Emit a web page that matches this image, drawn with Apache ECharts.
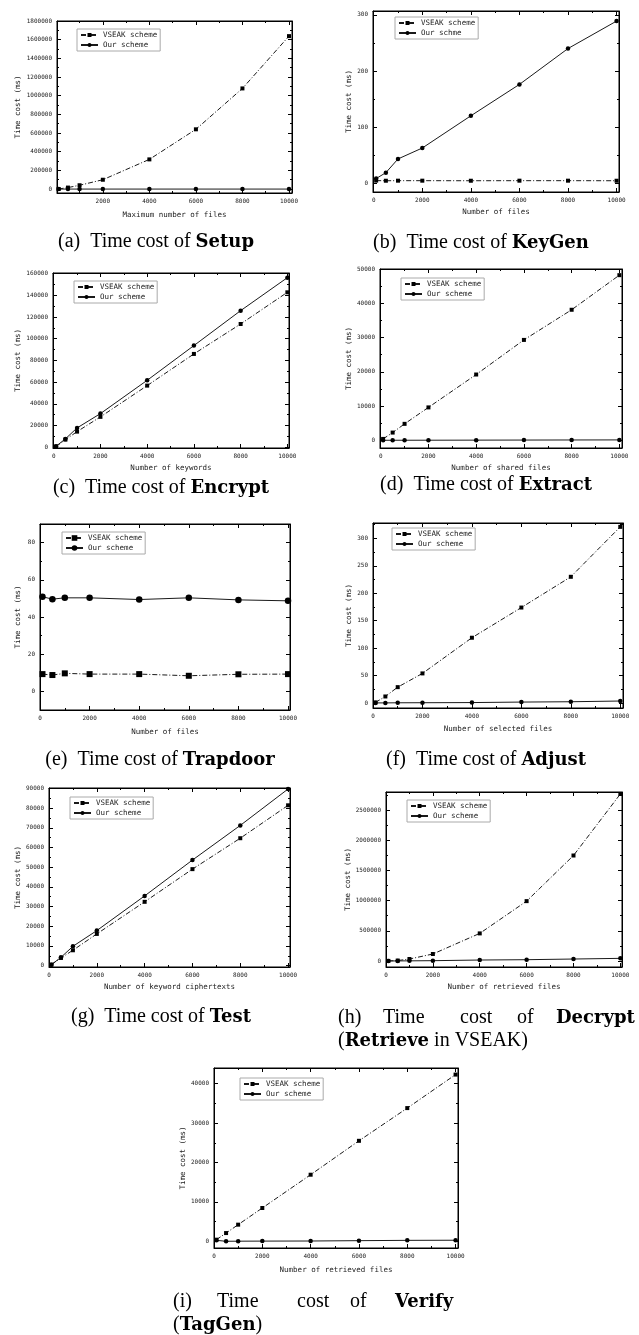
<!DOCTYPE html>
<html>
<head>
<meta charset="utf-8">
<script src="https://cdn.jsdelivr.net/npm/echarts@6/dist/echarts.min.js"></script>
<style>
html, body { margin: 0; padding: 0; background: #fff; }
#main { width: 639px; height: 1335px; }
</style>
</head>
<body>
<div id="main"></div>
<script>
// x values shared by every panel
var fileCounts = [100, 500, 1000, 2000, 4000, 6000, 8000, 10000];

// (a) Setup
var setupVseak = [1000, 16000, 41000, 100000, 318000, 640000, 1078000, 1638000];
var setupOur = [3, 5, 7, 12, 22, 31, 43, 52];
// (b) KeyGen
var keygenVseak = [4.3, 4.1, 4.2, 4.2, 4.1, 4.2, 4.2, 4.1];
var keygenOur = [8, 18.5, 43, 62.5, 120, 176, 240, 289];
// (c) Encrypt
var encryptVseak = [600, 7000, 14400, 28000, 56800, 86000, 113600, 142800];
var encryptOur = [900, 7700, 17800, 31000, 61700, 93700, 125900, 156300];
// (d) Extract
var extractVseak = [400, 2250, 4800, 9600, 19200, 29300, 38100, 48200];
var extractOur = [5, 10, 15, 25, 45, 70, 90, 110];
// (e) Trapdoor
var trapdoorVseak = [9.3, 8.8, 9.7, 9.3, 9.3, 8.4, 9.2, 9.3];
var trapdoorOur = [50.9, 49.6, 50.3, 50.3, 49.4, 50.3, 49.2, 48.7];
// (f) Adjust
var adjustVseak = [1.2, 12, 29, 54, 119, 174, 230, 321];
var adjustOur = [0.3, 0.3, 0.5, 0.6, 0.9, 1.8, 2.4, 3.7];
// (g) Test
var testVseak = [500, 3900, 7800, 16100, 32400, 49000, 64700, 81400];
var testOur = [500, 4200, 9800, 17800, 35400, 53600, 71200, 89700];
// (h) Decrypt
var decryptVseak = [2000, 8000, 33000, 116000, 457000, 991000, 1746000, 2764000];
var decryptOur = [300, 1500, 2700, 5500, 16500, 22000, 33000, 44000];
// (i) Verify
var verifyVseak = [420, 2100, 4230, 8460, 16900, 25500, 33800, 42300];
var verifyOur = [250, 20, 40, 60, 85, 170, 250, 280];

var vseakName = 'VSEAK scheme';
var ourName = 'Our scheme';
var yTitle = 'Time cost (ms)';

// panel layout: grid [left, top, width, height], axis ranges, legend position
var panels = [
  { k: 'a', v: setupVseak, o: setupOur, on: ourName, xt: 'Maximum number of files',
    g: [57, 21, 235, 172], x: [30, 10130], y: [-42000, 1800000], ys: 200000, yg: 35, xg: 18, lg: [77, 29] },
  { k: 'b', v: keygenVseak, o: keygenOur, on: 'Our schme', xt: 'Number of files',
    g: [373, 11, 246, 181], x: [-30, 10100], y: [-16, 307], ys: 100, yg: 20, xg: 16, lg: [395, 17] },
  { k: 'c', v: encryptVseak, o: encryptOur, on: ourName, xt: 'Number of keywords',
    g: [53, 273, 236, 175], x: [-30, 10070], y: [-700, 160600], ys: 20000, yg: 31, xg: 16, lg: [74, 281] },
  { k: 'd', v: extractVseak, o: extractOur, on: ourName, xt: 'Number of shared files',
    g: [380, 269, 242, 179], x: [-30, 10110], y: [-2250, 50000], ys: 10000, yg: 27, xg: 16, lg: [401, 278] },
  { k: 'e', v: trapdoorVseak, o: trapdoorOur, on: ourName, xt: 'Number of files',
    g: [40, 524, 250, 186], x: [0, 10080], y: [-10, 90], ys: 20, yg: 18, xg: 18, lg: [62, 532], big: true },
  { k: 'f', v: adjustVseak, o: adjustOur, on: ourName, xt: 'Number of selected files',
    g: [373, 523, 250, 185], x: [0, 10110], y: [-9, 328], ys: 50, yg: 20, xg: 17, lg: [392, 528] },
  { k: 'g', v: testVseak, o: testOur, on: ourName, xt: 'Number of keyword ciphertexts',
    g: [49, 788, 241, 179], x: [0, 10080], y: [-700, 90200], ys: 10000, yg: 27, xg: 16, lg: [70, 797] },
  { k: 'h', v: decryptVseak, o: decryptOur, on: ourName, xt: 'Number of retrieved files',
    g: [386, 792, 236, 175], x: [0, 10070], y: [-99000, 2797000], ys: 500000, yg: 33, xg: 16, lg: [407, 800] },
  { k: 'i', v: verifyVseak, o: verifyOur, on: ourName, xt: 'Number of retrieved files',
    g: [214, 1068, 244, 180], x: [0, 10100], y: [-1690, 43970], ys: 10000, yg: 27, xg: 18, lg: [240, 1078] }
];

var mono = 'DejaVu Sans Mono';
var ink = '#1a1a1a';

function pairs(xs, ys) {
  var out = [];
  for (var i = 0; i < xs.length; i++) out.push([xs[i], ys[i]]);
  return out;
}

function makeAxis(p, gi, isX, pos, main) {
  var step = isX ? 2000 : p.ys;
  var r = isX ? p.x : p.y;
  var ax = {
    type: 'value', gridIndex: gi, position: pos,
    min: r[0], max: r[1], minInterval: step, maxInterval: step, splitNumber: 5,
    axisLine: { show: true, onZero: false, lineStyle: { color: '#000', width: 1 } },
    axisTick: { show: true, inside: true, length: 4, lineStyle: { color: '#000', width: 1 } },
    minorTick: { show: true, splitNumber: 2, length: 2, lineStyle: { color: '#000', width: 1 } },
    splitLine: { show: false },
    axisLabel: {
      show: main, margin: 5, fontSize: 6, fontFamily: mono, color: ink,
      formatter: function (val) { return Math.abs(val % step) < 1e-6 ? String(val) : ''; }
    }
  };
  if (main) {
    ax.name = isX ? p.xt : yTitle;
    ax.nameLocation = 'middle';
    ax.nameGap = isX ? p.xg : p.yg;
    ax.nameTextStyle = { fontSize: 7.5, fontFamily: mono, color: ink };
  }
  return ax;
}

var grids = [], xAxes = [], yAxes = [], series = [], legends = [];

panels.forEach(function (p, i) {
  grids.push({ left: p.g[0], top: p.g[1], width: p.g[2], height: p.g[3],
    show: true, borderColor: '#000', borderWidth: 1, containLabel: false });
  xAxes.push(makeAxis(p, i, true, 'bottom', true));
  xAxes.push(makeAxis(p, i, true, 'top', false));
  yAxes.push(makeAxis(p, i, false, 'left', true));
  yAxes.push(makeAxis(p, i, false, 'right', false));

  var sz = p.big ? 6 : 4;
  var ourKey = ourName + '#' + p.k + (p.on !== ourName ? '!' : '');
  series.push({
    type: 'line', name: vseakName + '#' + p.k,
    xAxisIndex: 2 * i, yAxisIndex: 2 * i,
    data: pairs(fileCounts, p.v),
    symbol: 'rect', symbolSize: sz,
    lineStyle: { color: ink, width: 1, type: [5, 2, 1, 2] },
    itemStyle: { color: '#000' }
  });
  series.push({
    type: 'line', name: ourKey,
    xAxisIndex: 2 * i, yAxisIndex: 2 * i,
    data: pairs(fileCounts, p.o),
    symbol: 'circle', symbolSize: sz + 0.5,
    lineStyle: { color: ink, width: 1 },
    itemStyle: { color: '#000' }
  });

  legends.push({
    left: p.lg[0], top: p.lg[1], orient: 'vertical',
    data: [vseakName + '#' + p.k, ourKey],
    formatter: function (n) { return n.indexOf('!') >= 0 ? p.on : n.split('#')[0]; },
    itemWidth: 17, itemHeight: p.big ? 7 : 5, itemGap: 2,
    padding: [2, 3, 2, 3], borderColor: '#aaa', borderWidth: 1,
    selectedMode: false,
    textStyle: { fontSize: 7.5, lineHeight: 8, fontFamily: mono, color: ink }
  });
});

// captions
var capRich = {
  r: { fontFamily: 'Liberation Serif', fontSize: 20, color: '#000' },
  b: { fontFamily: 'DejaVu Serif', fontSize: 18, fontWeight: 'bold', color: '#000' }
};
function cap(x, y, txt, align) {
  return { type: 'text', x: x, y: y, silent: true,
    style: { text: txt, rich: capRich, align: align || 'center', verticalAlign: 'middle' } };
}
var captions = [
  cap(156, 242, '{r|(a)  Time cost of }{b|Setup}'),
  cap(481, 243, '{r|(b)  Time cost of }{b|KeyGen}'),
  cap(161, 488, '{r|(c)  Time cost of }{b|Encrypt}'),
  cap(486, 485, '{r|(d)  Time cost of }{b|Extract}'),
  cap(160, 760, '{r|(e)  Time cost of }{b|Trapdoor}'),
  cap(486, 760, '{r|(f)  Time cost of }{b|Adjust}'),
  cap(161, 1017, '{r|(g)  Time cost of }{b|Test}'),
  // (h) justified line
  cap(338, 1018, '{r|(h)}', 'left'),
  cap(383, 1018, '{r|Time}', 'left'),
  cap(460, 1018, '{r|cost}', 'left'),
  cap(517, 1018, '{r|of}', 'left'),
  cap(556, 1018, '{b|Decrypt}', 'left'),
  cap(338, 1041, '{r|(}{b|Retrieve}{r| in VSEAK)}', 'left'),
  // (i) justified line
  cap(173, 1302, '{r|(i)}', 'left'),
  cap(217, 1302, '{r|Time}', 'left'),
  cap(297, 1302, '{r|cost}', 'left'),
  cap(350, 1302, '{r|of}', 'left'),
  cap(395, 1302, '{b|Verify}', 'left'),
  cap(173, 1325, '{r|(}{b|TagGen}{r|)}', 'left')
];

var chart = echarts.init(document.getElementById('main'));
chart.setOption({
  animation: false,
  backgroundColor: '#fff',
  grid: grids,
  xAxis: xAxes,
  yAxis: yAxes,
  legend: legends,
  series: series,
  graphic: captions
});
</script>
</body>
</html>
